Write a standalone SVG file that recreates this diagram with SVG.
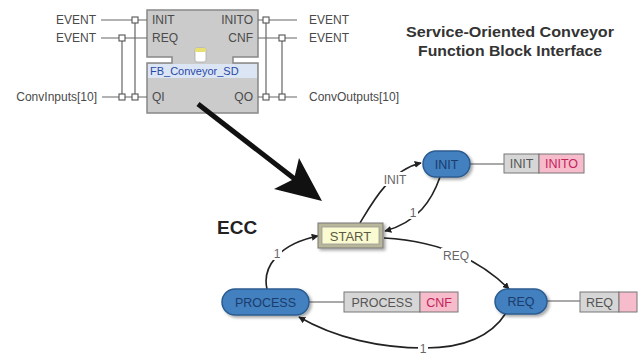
<svg xmlns="http://www.w3.org/2000/svg" width="642" height="355" viewBox="0 0 642 355">
  <defs>
    <style>
      .pin { font-family: "Liberation Sans", Arial, sans-serif; font-size: 12px; fill: #4a4a4a; }
      .wire { stroke: #666; stroke-width: 1.2; fill: none; }
      .sq { fill: #fff; stroke: #555; stroke-width: 1.1; }
      .title { font-family: "Liberation Sans", Arial, sans-serif; font-size: 14px; font-weight: bold; fill: #333; text-anchor: middle; }
      .state rect { fill: #4280c0; stroke: #2b5c90; stroke-width: 1.5; }
      .state text { font-family: "Liberation Sans", Arial, sans-serif; font-size: 12.5px; fill: #1b3c6c; text-anchor: middle; }
      .act { font-family: "Liberation Sans", Arial, sans-serif; font-size: 12.5px; text-anchor: middle; }
      .algo { fill: #d6d6d6; stroke: #777; stroke-width: 1; }
      .evt { fill: #f7bccb; stroke: #777; stroke-width: 1; }
      .link { stroke: #555; stroke-width: 1.2; fill: none; }
      .tr { stroke: #222; stroke-width: 1.6; fill: none; }
      .cond { font-family: "Liberation Sans", Arial, sans-serif; font-size: 12px; fill: #666; text-anchor: middle; }
    </style>
    <marker id="ah" viewBox="0 0 10 10" refX="9" refY="5" markerWidth="7" markerHeight="7" orient="auto" markerUnits="userSpaceOnUse">
      <path d="M0,0 L10,5 L0,10 Z" fill="#222"/>
    </marker>
    <filter id="shadow" x="-20%" y="-30%" width="150%" height="170%">
      <feDropShadow dx="2" dy="2" stdDeviation="1.5" flood-color="#000" flood-opacity="0.35"/>
    </filter>
  </defs>

  <rect width="642" height="355" fill="#fff"/>

  <!-- Function block with its event/data interface -->
  <g id="fb">
    <path d="M147,10 H258 V57 H233 V63 H258 V113 H147 V63 H172 V57 H147 Z" fill="#cbcbcb" stroke="#888" stroke-width="1.5"/>
    <rect x="148" y="64" width="109" height="14" fill="#dce5f4"/>
    <text x="150" y="75" font-family="Liberation Sans, Arial, sans-serif" font-size="11" fill="#2848a8">FB_Conveyor_SD</text>
    <rect x="195" y="48" width="11" height="14" rx="2" fill="#fff" stroke="#aaa" stroke-width="0.8"/>
    <rect x="195" y="48" width="11" height="4" rx="1.5" fill="#e8e070"/>
    <text class="pin" x="152" y="24">INIT</text>
    <text class="pin" x="152" y="42">REQ</text>
    <text class="pin" x="152" y="101">QI</text>
    <text class="pin" x="253" y="24" text-anchor="end">INITO</text>
    <text class="pin" x="253" y="42" text-anchor="end">CNF</text>
    <text class="pin" x="253" y="101" text-anchor="end">QO</text>
  </g>

  <g id="fb-inputs">
    <text class="pin" x="96" y="24" text-anchor="end">EVENT</text>
    <text class="pin" x="96" y="42" text-anchor="end">EVENT</text>
    <text class="pin" x="97" y="101" text-anchor="end">ConvInputs[10]</text>
    <path class="wire" d="M101,20 H147 M101,38 H147 M102,97 H147 M122,38 V97 M135,20 V97"/>
    <rect class="sq" x="132" y="17" width="6" height="6"/>
    <rect class="sq" x="119" y="35" width="6" height="6"/>
    <rect class="sq" x="119" y="94" width="6" height="6"/>
    <rect class="sq" x="132" y="94" width="6" height="6"/>
  </g>

  <g id="fb-outputs">
    <path class="wire" d="M258,20 H297 M258,38 H297 M258,97 H297 M266,20 V97 M282,38 V97"/>
    <rect class="sq" x="263" y="17" width="6" height="6"/>
    <rect class="sq" x="279" y="35" width="6" height="6"/>
    <rect class="sq" x="263" y="94" width="6" height="6"/>
    <rect class="sq" x="279" y="94" width="6" height="6"/>
    <text class="pin" x="309" y="24">EVENT</text>
    <text class="pin" x="309" y="42">EVENT</text>
    <text class="pin" x="309" y="101">ConvOutputs[10]</text>
  </g>

  <g id="title">
    <text class="title" x="510" y="37" textLength="208" lengthAdjust="spacingAndGlyphs">Service-Oriented Conveyor</text>
    <text class="title" x="510" y="56" textLength="184" lengthAdjust="spacingAndGlyphs">Function Block Interface</text>
  </g>

  <!-- Pointer from the block to its execution control chart -->
  <g id="pointer">
    <line x1="198" y1="104" x2="296" y2="180" stroke="#111" stroke-width="5"/>
    <polygon points="322,201 274,189 294,179 299,158" fill="#111"/>
  </g>

  <text id="ecc-label" x="217" y="234" font-family="Liberation Sans, Arial, sans-serif" font-size="19" font-weight="bold" fill="#222">ECC</text>

  <!-- ECC transitions -->
  <g id="transitions">
    <path class="tr" d="M360,223 C372,203 390,170 421,163" marker-end="url(#ah)"/>
    <path class="tr" d="M440,177 C432,200 418,222 385,231" marker-end="url(#ah)"/>
    <path class="tr" d="M384,238 C420,240 470,250 509,289" marker-end="url(#ah)"/>
    <path class="tr" d="M506,313 C490,338 462,348 425,348 C380,348 335,338 299,317" marker-end="url(#ah)"/>
    <path class="tr" d="M267,289 C262,268 278,244 318,236" marker-end="url(#ah)"/>
    <rect x="381" y="172" width="28" height="14" fill="#fff"/>
    <text class="cond" x="395" y="184">INIT</text>
    <rect x="408" y="205" width="10" height="14" fill="#fff"/>
    <text class="cond" x="413" y="217">1</text>
    <rect x="441" y="248" width="30" height="14" fill="#fff"/>
    <text class="cond" x="456" y="260">REQ</text>
    <rect x="418" y="341" width="10" height="14" fill="#fff"/>
    <text class="cond" x="423" y="353">1</text>
    <rect x="272" y="246" width="10" height="14" fill="#fff"/>
    <text class="cond" x="277" y="258">1</text>
  </g>

  <!-- Action links -->
  <g id="action-links">
    <path class="link" d="M470,164 H504 M309,302 H344 M547,301 H580"/>
  </g>

  <g id="start">
    <rect x="318" y="223" width="65" height="25" fill="#b9b79a" stroke="#777" stroke-width="1" filter="url(#shadow)"/>
    <rect x="322" y="227" width="57" height="17" fill="#fbfbd2" stroke="#999" stroke-width="0.8"/>
    <text x="350.5" y="240.5" font-family="Liberation Sans, Arial, sans-serif" font-size="13" fill="#5a5a44" text-anchor="middle">START</text>
  </g>

  <g id="init" class="state">
    <rect x="423" y="151" width="47" height="26" rx="13" filter="url(#shadow)"/>
    <text x="446.5" y="168.5">INIT</text>
  </g>
  <g id="init-actions">
    <rect class="algo" x="504" y="154" width="35" height="19"/>
    <rect class="evt" x="539" y="154" width="45" height="19"/>
    <text class="act" x="521.5" y="168" fill="#555">INIT</text>
    <text class="act" x="561.5" y="168" fill="#c3245c">INITO</text>
  </g>

  <g id="req" class="state">
    <rect x="495" y="289" width="52" height="25" rx="12.5" filter="url(#shadow)"/>
    <text x="521" y="306">REQ</text>
  </g>
  <g id="req-actions">
    <rect class="algo" x="580" y="292" width="39" height="20"/>
    <rect class="evt" x="619" y="292" width="18" height="20"/>
    <text class="act" x="599.5" y="306.5" fill="#555">REQ</text>
  </g>

  <g id="process" class="state">
    <rect x="222" y="289" width="87" height="26" rx="13" filter="url(#shadow)"/>
    <text x="265.5" y="306.5">PROCESS</text>
  </g>
  <g id="process-actions">
    <rect class="algo" x="344" y="292" width="76" height="20"/>
    <rect class="evt" x="420" y="292" width="38" height="20"/>
    <text class="act" x="382" y="306.5" fill="#555">PROCESS</text>
    <text class="act" x="439" y="306.5" fill="#c3245c">CNF</text>
  </g>
</svg>
